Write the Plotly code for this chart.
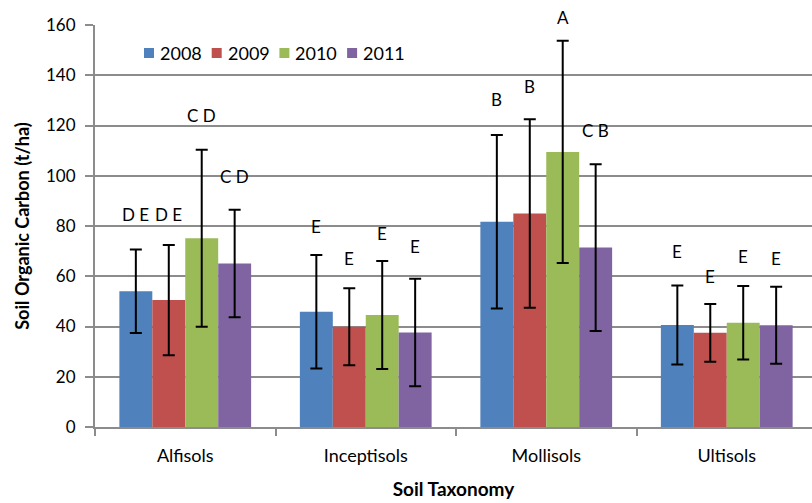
import plotly.graph_objects as go

# Soil organic carbon by soil order and year
categories = ["Alfisols", "Inceptisols", "Mollisols", "Ultisols"]
years = ["2008", "2009", "2010", "2011"]

soc_mean = {
    "2008": [54.0, 45.9, 81.7, 40.6],
    "2009": [50.5, 39.9, 85.0, 37.5],
    "2010": [75.1, 44.6, 109.5, 41.5],
    "2011": [65.1, 37.6, 71.4, 40.5],
}
soc_err = {
    "2008": [16.6, 22.6, 34.5, 15.7],
    "2009": [21.9, 15.3, 37.5, 11.5],
    "2010": [35.2, 21.5, 44.2, 14.6],
    "2011": [21.4, 21.4, 33.2, 15.3],
}
# significance letters and the height they are written at
sig_letters = {
    "2008": ["D E", "E", "B", "E"],
    "2009": ["D E", "E", "B", "E"],
    "2010": ["C D", "E", "A", "E"],
    "2011": ["C D", "E", "C B", "E"],
}
letter_y = {
    "2008": [84.5, 80.0, 130.5, 70.0],
    "2009": [84.5, 67.0, 135.5, 60.0],
    "2010": [124.0, 77.2, 163.0, 67.8],
    "2011": [99.6, 71.8, 118.2, 67.1],
}
colors = {"2008": "#4F81BD", "2009": "#C0504D", "2010": "#9BBB59", "2011": "#8064A2"}

FONT = "Lato, 'Open Sans', sans-serif"
GRID = "#8C8C8C"
BARGAP = 0.27
Y_MAX = 160
W, H = 812, 503
PLOT_LEFT, PLOT_TOP, PLOT_BOTTOM = 95, 25, 427
PLOT_W = W - PLOT_LEFT
PX_PER_UNIT = (PLOT_BOTTOM - PLOT_TOP) / Y_MAX
CATEGORY_PX = 180.5  # the last category runs slightly past the right edge
X_RANGE = [-0.5, -0.5 + PLOT_W / CATEGORY_PX]


def px_to_paper_x(px):
    return (px - PLOT_LEFT) / PLOT_W


def px_to_paper_y(py):
    return (PLOT_BOTTOM - py) / (PLOT_BOTTOM - PLOT_TOP)


fig = go.Figure()
for yr in years:
    fig.add_trace(go.Bar(
        name=yr,
        x=categories,
        y=soc_mean[yr],
        marker=dict(color=colors[yr], line=dict(width=0)),
        error_y=dict(type="data", array=soc_err[yr], visible=True,
                     color="black", thickness=2, width=6),
        showlegend=False,
    ))

# letters above each bar, centred on the bar within its group
bar_w = (1 - BARGAP) / len(years)
for j, yr in enumerate(years):
    off = (j - (len(years) - 1) / 2) * bar_w
    for i, cat in enumerate(categories):
        ly = letter_y[yr][i]
        # letters above the axis top are anchored at the top and shifted up
        shift = max(0.0, ly - Y_MAX) * PX_PER_UNIT
        fig.add_annotation(
            x=i + off, y=min(ly, Y_MAX), xref="x", yref="y",
            yshift=shift,
            text=sig_letters[yr][i], showarrow=False,
            font=dict(family=FONT, size=17, color="black"),
        )

# legend box: white backing that hides the gridline behind it
fig.add_shape(type="rect", xref="paper", yref="paper",
              x0=px_to_paper_x(135), x1=px_to_paper_x(410),
              y0=px_to_paper_y(82), y1=px_to_paper_y(31),
              fillcolor="white", line=dict(width=0), layer="between")

# legend entries: colour swatch followed by the year
LEG_X0, LEG_PITCH, LEG_CY, SW = 144, 67.7, 53, 10
for k, yr in enumerate(years):
    sx = LEG_X0 + k * LEG_PITCH
    fig.add_shape(type="rect", xref="paper", yref="paper",
                  x0=px_to_paper_x(sx), x1=px_to_paper_x(sx + SW),
                  y0=px_to_paper_y(LEG_CY + SW / 2), y1=px_to_paper_y(LEG_CY - SW / 2),
                  fillcolor=colors[yr], line=dict(width=0), layer="above")
    fig.add_annotation(x=px_to_paper_x(sx + SW + 4), y=px_to_paper_y(LEG_CY),
                       xref="paper", yref="paper", xanchor="left", yanchor="middle",
                       text=yr, showarrow=False,
                       font=dict(family=FONT, size=18, color="black"))

fig.update_layout(
    width=W, height=H,
    margin=dict(l=PLOT_LEFT, r=0, t=PLOT_TOP, b=H - PLOT_BOTTOM),
    paper_bgcolor="white", plot_bgcolor="white",
    barmode="group", bargap=BARGAP, bargroupgap=0,
    font=dict(family=FONT, size=15, color="black"),
    showlegend=False,
    xaxis=dict(
        type="category", range=X_RANGE,
        showline=True, linecolor=GRID, linewidth=2,
        ticks="outside", tickson="boundaries", ticklen=7, tickcolor=GRID, tickwidth=1.5,
        showgrid=False,
        tickfont=dict(family=FONT, size=18, color="black"),
        ticklabelstandoff=11,
        title=dict(text="<b>Soil Taxonomy</b>", font=dict(family=FONT, size=19), standoff=18),
    ),
    yaxis=dict(
        range=[0, Y_MAX], dtick=20,
        showline=True, linecolor=GRID, linewidth=2,
        ticks="outside", ticklen=8, tickcolor=GRID, tickwidth=1.5,
        showgrid=True, gridcolor=GRID, gridwidth=2,
        zeroline=False,
        tickfont=dict(family=FONT, size=17, color="black"),
        ticklabelstandoff=6,
        title=dict(text="<b>Soil Organic Carbon (t/ha)</b>", font=dict(family=FONT, size=18), standoff=12),
    ),
)

fig.write_html("out.html")
